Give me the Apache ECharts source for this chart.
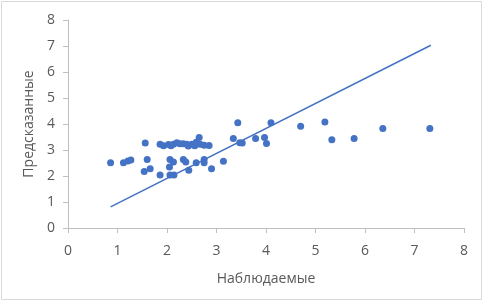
<!DOCTYPE html>
<html><head><meta charset="utf-8">
<script src="https://cdn.jsdelivr.net/npm/echarts@6/dist/echarts.min.js"></script>
<style>html,body{margin:0;padding:0;background:#fff}#c{width:483px;height:303px}</style>
</head><body><div id="c"></div>
<script>
const observed = [0.86,1.12,1.21,1.27,1.56,1.60,1.54,1.66,1.86,1.86,1.93,2.03,2.08,2.13,2.20,2.26,2.33,2.40,2.43,2.50,2.56,2.59,2.65,2.67,2.75,2.85,2.06,2.13,2.05,2.06,2.14,2.33,2.38,2.44,2.59,2.75,2.75,2.90,3.14,3.34,3.43,3.47,3.52,3.79,3.97,4.01,4.10,4.70,5.19,5.33,5.78,6.36,7.31];
const predicted = [2.51,2.51,2.58,2.62,3.27,2.63,2.17,2.28,2.04,3.22,3.16,3.21,3.16,3.22,3.28,3.24,3.24,3.22,3.15,3.22,3.16,3.30,3.48,3.22,3.18,3.17,2.63,2.54,2.35,2.04,2.04,2.63,2.54,2.22,2.51,2.63,2.51,2.28,2.57,3.44,4.05,3.28,3.27,3.44,3.48,3.25,4.05,3.91,4.08,3.39,3.44,3.83,3.83];
const lineX = [0.86,7.33];
const lineY = [0.81,7.03];
const ticks = [0,1,2,3,4,5,6,7,8];
const xName = 'Наблюдаемые';
const yName = 'Предсказанные';

const pts = observed.map((v,i)=>[v,predicted[i]]);
const linePts = lineX.map((v,i)=>[v,lineY[i]]);
const font = '"Open Sans", Lato, sans-serif';
function axis(name, gap, margin){
  return {type:'value',name:name,nameLocation:'middle',nameGap:gap,
    min:ticks[0],max:ticks[ticks.length-1],interval:1,
    splitLine:{show:false},
    axisLine:{show:true,lineStyle:{color:'#bfbfbf',width:1}},
    axisTick:{show:true,length:5,lineStyle:{color:'#bfbfbf'}},
    axisLabel:{color:'#595959',fontSize:14,fontFamily:font,margin:margin},
    nameTextStyle:{color:'#595959',fontSize:14,fontFamily:font}};
}
const chart = echarts.init(document.getElementById('c'));
chart.setOption({
  animation:false,
  backgroundColor:'#fff',
  graphic:[{type:'rect',shape:{x:1.5,y:1.5,width:480,height:298},style:{fill:null,stroke:'#d9d9d9',lineWidth:1}}],
  grid:{left:68,right:19,top:20,bottom:75,containLabel:false},
  xAxis:axis(xName,44,16),
  yAxis:axis(yName,32,13),
  series:[
    {type:'scatter',data:pts,symbolSize:7,itemStyle:{color:'#4472C4',opacity:1}},
    {type:'line',data:linePts,symbol:'none',lineStyle:{color:'#4472C4',width:1.5}}
  ]
});
</script></body></html>
